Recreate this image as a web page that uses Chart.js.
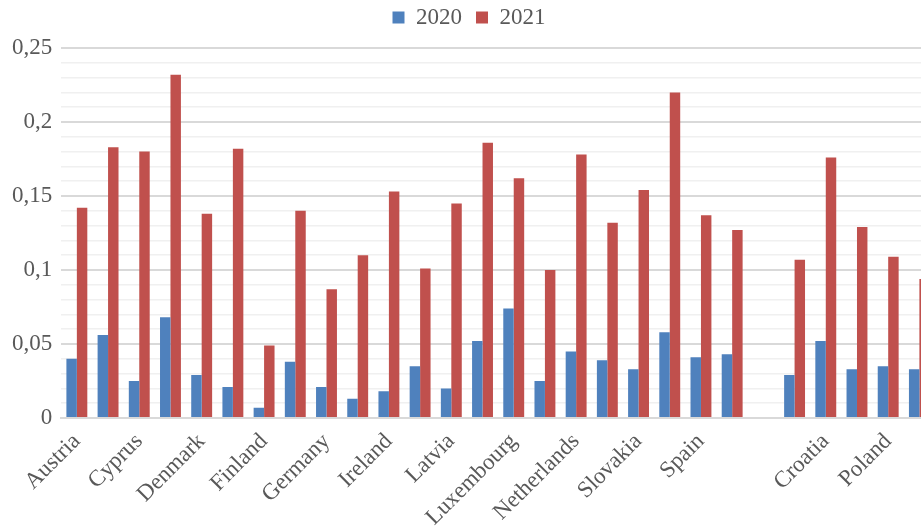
<!DOCTYPE html>
<html>
<head>
<meta charset="utf-8">
<script src="https://cdn.jsdelivr.net/npm/chart.js@4"></script>
<style>
  html, body { margin: 0; padding: 0; background: #fff; overflow: hidden; }
  #wrap { position: absolute; left: 0; top: 0; width: 940px; height: 527px; }
</style>
</head>
<body>
<div id="wrap"><canvas id="myChart"></canvas></div>
<script>
// countries, alphabetical; the blank one is the gap between the two groups
var countries = ['Austria', 'Belgium', 'Cyprus', 'Czechia', 'Denmark', 'Estonia', 'Finland', 'France',
  'Germany', 'Greece', 'Ireland', 'Italy', 'Latvia', 'Lithuania', 'Luxembourg', 'Malta',
  'Netherlands', 'Portugal', 'Slovakia', 'Slovenia', 'Spain', 'Sweden', '',
  'Bulgaria', 'Croatia', 'Hungary', 'Poland', 'Romania'];
var values2020 = [0.040, 0.056, 0.025, 0.068, 0.029, 0.021, 0.007, 0.038,
  0.021, 0.013, 0.018, 0.035, 0.020, 0.052, 0.074, 0.025,
  0.045, 0.039, 0.033, 0.058, 0.041, 0.043, null,
  0.029, 0.052, 0.033, 0.035, 0.033];
var values2021 = [0.142, 0.183, 0.180, 0.232, 0.138, 0.182, 0.049, 0.140,
  0.087, 0.110, 0.153, 0.101, 0.145, 0.186, 0.162, 0.100,
  0.178, 0.132, 0.154, 0.220, 0.137, 0.127, null,
  0.107, 0.176, 0.129, 0.109, 0.094];
var yTicks = [0, 0.05, 0.1, 0.15, 0.2, 0.25];

var textColor = '#595959';
var fontFamily = '"Liberation Serif", "Times New Roman", serif';

function isMajor(v) {
  var r = Math.round(v * 100);
  return yTicks.some(function(t) { return Math.round(t * 100) === r; });
}

// a bit more room under the legend
var legendGap = {
  id: 'legendGap',
  beforeInit: function(chart) {
    var fit = chart.legend.fit;
    chart.legend.fit = function() {
      fit.bind(chart.legend)();
      this.height += 9;
    };
  }
};

var ctx = document.getElementById('myChart').getContext('2d');
var myChart = new Chart(ctx, {
  type: 'bar',
  data: {
    labels: countries,
    datasets: [{
      label: '2020',
      data: values2020,
      backgroundColor: '#4f81bd',
      categoryPercentage: 0.67,
      barPercentage: 1.0
    },
    {
      label: '2021',
      data: values2021,
      backgroundColor: '#c0504d',
      categoryPercentage: 0.67,
      barPercentage: 1.0
    }]
  },
  plugins: [legendGap],
  options: {
    responsive: true,
    maintainAspectRatio: false,
    animation: false,
    layout: { padding: { left: 3, right: 5, top: -8, bottom: 0 } },
    plugins: {
      tooltip: { enabled: false },
      legend: {
        position: 'top',
        labels: {
          color: textColor,
          font: { family: fontFamily, size: 23 },
          boxWidth: 12,
          boxHeight: 12,
          padding: 14
        }
      }
    },
    scales: {
      x: {
        grid: { display: false, drawTicks: false },
        border: { display: true, color: '#d9d9d9', width: 2 },
        afterFit: function(scale) {
          scale.height = 109;
          scale.paddingLeft = 0;
          scale.paddingRight = 0;
        },
        ticks: {
          color: textColor,
          font: { family: fontFamily, size: 23 },
          autoSkip: false,
          minRotation: 45,
          maxRotation: 45,
          padding: 10,
          callback: function(val, i) {
            return i % 2 === 0 ? countries[i] : '';
          }
        }
      },
      y: {
        min: 0,
        max: 0.25,
        grid: {
          drawTicks: false,
          color: function(c) { return isMajor(c.tick.value) ? '#d9d9d9' : '#f0f0f0'; },
          lineWidth: function(c) { return isMajor(c.tick.value) ? 2 : 1.5; }
        },
        border: { display: false },
        ticks: {
          stepSize: 0.01,
          autoSkip: false,
          color: textColor,
          font: { family: fontFamily, size: 23 },
          padding: 9,
          callback: function(v) {
            if (!isMajor(v)) return '';
            return String(Math.round(v * 100) / 100).replace('.', ',');
          }
        }
      }
    }
  }
});
</script>
</body>
</html>
